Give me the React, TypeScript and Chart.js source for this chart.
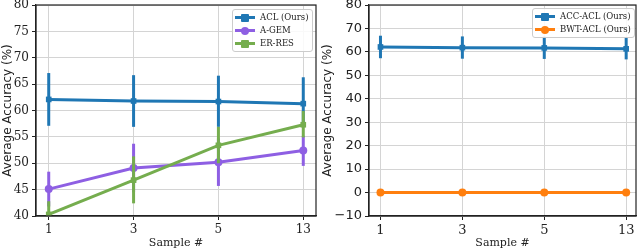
import React, { useEffect, useRef } from "react";
import { Chart, registerables } from "chart.js";

Chart.register(...registerables);

const xLabels = ["1", "3", "5", "13"];

// Left chart
const aclMean = [62.1, 61.8, 61.7, 61.3];
const aclLow = [57.1, 56.9, 56.9, 57.0];
const aclHigh = [67.1, 66.7, 66.6, 66.3];

const agemMean = [45.1, 49.1, 50.2, 52.4];
const agemLow = [41.8, 44.5, 45.7, 49.5];
const agemHigh = [48.4, 53.7, 54.7, 55.2];

const erMean = [40.3, 46.8, 53.4, 57.3];
const erLow = [37.8, 42.4, 50.0, 54.9];
const erHigh = [42.8, 51.3, 56.9, 59.9];

// Right chart
const accMean = [62.1, 61.8, 61.7, 61.3];
const accLow = [57.3, 57.1, 57.0, 56.8];
const accHigh = [66.9, 66.6, 66.5, 66.0];

const bwtMean = [0, 0, 0, 0];
const bwtLow = [0, 0, 0, 0];
const bwtHigh = [0, 0, 0, 0];

const BLUE = "#1f77b4";
const PURPLE = "#8e5fe3";
const GREEN = "#75ad4e";
const ORANGE = "#ff7f0e";

const errorBarPlugin = {
  id: "errorBars",
  beforeDatasetDraw(chart: any, args: any) {
    const ds = chart.data.datasets[args.index];
    if (!ds.errLow) return;
    const { ctx, scales, chartArea } = chart;
    ctx.save();
    ctx.beginPath();
    ctx.rect(chartArea.left, chartArea.top, chartArea.right - chartArea.left, chartArea.bottom - chartArea.top);
    ctx.clip();
    ctx.strokeStyle = ds.borderColor;
    ctx.lineWidth = 3;
    ds.data.forEach((pt: any, i: number) => {
      const x = scales.x.getPixelForValue(pt.x);
      const y1 = scales.y.getPixelForValue(ds.errLow[i]);
      const y2 = scales.y.getPixelForValue(ds.errHigh[i]);
      ctx.beginPath();
      ctx.moveTo(x, y1);
      ctx.lineTo(x, y2);
      ctx.stroke();
    });
    ctx.restore();
  },
};

const framePlugin = {
  id: "frame",
  afterDraw(chart: any) {
    const { ctx, chartArea } = chart;
    ctx.save();
    ctx.strokeStyle = "#222";
    ctx.lineWidth = 1.2;
    ctx.strokeRect(chartArea.left, chartArea.top, chartArea.right - chartArea.left, chartArea.bottom - chartArea.top);
    ctx.restore();
  },
};

function mkData(mean: number[]) {
  return mean.map((v, i) => ({ x: i, y: v }));
}

function mkDataset(label: string, color: string, mean: number[], low: number[], high: number[], pointStyle: string, order: number) {
  return {
    label,
    data: mkData(mean),
    errLow: low,
    errHigh: high,
    borderColor: color,
    backgroundColor: color,
    borderWidth: 3,
    pointStyle,
    pointRadius: 4,
    pointBorderWidth: 0,
    pointBackgroundColor: color,
    showLine: true,
    order,
  } as any;
}

interface ChartSpec {
  datasets: any[];
  yMin: number;
  yMax: number;
  yStep: number;
  yWidth: number;
  yFont: string;
  tickSize: number;
  xMin: number;
  xMax: number;
}

function makeOptions(spec: ChartSpec): any {
  return {
    responsive: false,
    animation: false,
    layout: { padding: { left: 0, right: 4, top: 5, bottom: 0 } },
    plugins: { legend: { display: false }, tooltip: { enabled: false } },
    scales: {
      x: {
        type: "linear",
        min: spec.xMin,
        max: spec.xMax,
        afterBuildTicks: (s: any) => {
          s.ticks = xLabels.map((_, i) => ({ value: i }));
        },
        afterFit: (s: any) => {
          s.height = 34;
          s.paddingLeft = 0;
          s.paddingRight = 0;
        },
        ticks: {
          callback: (v: any) => xLabels[v] ?? "",
          font: { family: "DejaVu Serif", size: spec.tickSize },
          color: "#222",
          padding: 3,
          maxRotation: 0,
        },
        grid: { color: "#d4d4d4", tickColor: "#222", tickLength: 4, lineWidth: 1 },
        border: { color: "#222", width: 1.2 },
        title: {
          display: true,
          text: "Sample #",
          font: { family: "DejaVu Serif", size: 11 },
          color: "#222",
          padding: { top: 0, bottom: 0 },
        },
      },
      y: {
        min: spec.yMin,
        max: spec.yMax,
        afterBuildTicks: (s: any) => {
          const t = [];
          for (let v = spec.yMin; v <= spec.yMax + 1e-9; v += spec.yStep) t.push({ value: v });
          s.ticks = t;
        },
        afterFit: (s: any) => {
          s.width = spec.yWidth;
          s.paddingTop = 0;
          s.paddingBottom = 0;
        },
        ticks: {
          callback: (v: any) => (v < 0 ? "\u2212" + Math.abs(v) : String(v)),
          font: { family: spec.yFont, size: spec.tickSize },
          color: "#222",
          padding: 3,
        },
        grid: { color: "#d4d4d4", tickColor: "#222", tickLength: 4, lineWidth: 1 },
        border: { color: "#222", width: 1.2 },
        title: {
          display: true,
          text: "Average Accuracy (%)",
          font: { family: "DejaVu Sans", size: 12 },
          color: "#222",
          padding: { top: 1, bottom: 0 },
        },
      },
    },
  };
}

function ChartPanel({ spec }: { spec: ChartSpec }) {
  const ref = useRef<HTMLCanvasElement>(null);
  useEffect(() => {
    if (!ref.current) return;
    const chart = new Chart(ref.current, {
      type: "scatter",
      data: { datasets: spec.datasets },
      options: makeOptions(spec),
      plugins: [errorBarPlugin, framePlugin],
    } as any);
    return () => chart.destroy();
  }, []);
  return <canvas ref={ref} width={320} height={250} style={{ display: "block" }} />;
}

function LegendBox({ items, style }: { items: { label: string; color: string; round: boolean }[]; style: React.CSSProperties }) {
  return (
    <div
      style={{
        position: "absolute",
        background: "rgba(255,255,255,0.85)",
        border: "1px solid #ccc",
        borderRadius: 3,
        padding: "1px 3px 1px 2px",
        fontFamily: "DejaVu Serif",
        fontSize: 8.5,
        color: "#222",
        lineHeight: "13px",
        ...style,
      }}
    >
      {items.map((it) => (
        <div key={it.label} style={{ display: "flex", alignItems: "center", whiteSpace: "nowrap" }}>
          <span style={{ position: "relative", width: 20, height: 13, marginRight: 5, display: "inline-block" }}>
            <span style={{ position: "absolute", left: 0, top: 5, width: 20, height: 3, background: it.color }} />
            <span
              style={{
                position: "absolute",
                left: 6,
                top: 2.5,
                width: 8,
                height: 8,
                background: it.color,
                borderRadius: it.round ? 4 : 1,
              }}
            />
          </span>
          <span>{it.label}</span>
        </div>
      ))}
    </div>
  );
}

export default function App() {
  const leftSpec: ChartSpec = {
    datasets: [
      mkDataset("ACL (Ours)", BLUE, aclMean, aclLow, aclHigh, "rect", 3),
      mkDataset("A-GEM", PURPLE, agemMean, agemLow, agemHigh, "circle", 2),
      mkDataset("ER-RES", GREEN, erMean, erLow, erHigh, "rect", 1),
    ],
    yMin: 40,
    yMax: 80,
    yStep: 5,
    yWidth: 36,
    yFont: "DejaVu Serif",
    tickSize: 12,
    xMin: -0.15,
    xMax: 3.15,
  };
  const rightSpec: ChartSpec = {
    datasets: [
      mkDataset("ACC-ACL (Ours)", BLUE, accMean, accLow, accHigh, "rect", 2),
      mkDataset("BWT-ACL (Ours)", ORANGE, bwtMean, bwtLow, bwtHigh, "circle", 1),
    ],
    yMin: -10,
    yMax: 80,
    yStep: 10,
    yWidth: 49,
    yFont: "DejaVu Sans",
    tickSize: 13,
    xMin: -0.14,
    xMax: 3.12,
  };
  return (
    <div style={{ position: "fixed", left: 0, top: 0, width: 640, height: 250, background: "#fff" }}>
      <div style={{ position: "absolute", left: 0, top: 0, width: 320, height: 250 }}>
        <ChartPanel spec={leftSpec} />
        <LegendBox
          style={{ left: 232, top: 9 }}
          items={[
            { label: "ACL (Ours)", color: BLUE, round: false },
            { label: "A-GEM", color: PURPLE, round: true },
            { label: "ER-RES", color: GREEN, round: false },
          ]}
        />
      </div>
      <div style={{ position: "absolute", left: 320, top: 0, width: 320, height: 250 }}>
        <ChartPanel spec={rightSpec} />
        <LegendBox
          style={{ left: 212, top: 8 }}
          items={[
            { label: "ACC-ACL (Ours)", color: BLUE, round: false },
            { label: "BWT-ACL (Ours)", color: ORANGE, round: true },
          ]}
        />
      </div>
    </div>
  );
}
